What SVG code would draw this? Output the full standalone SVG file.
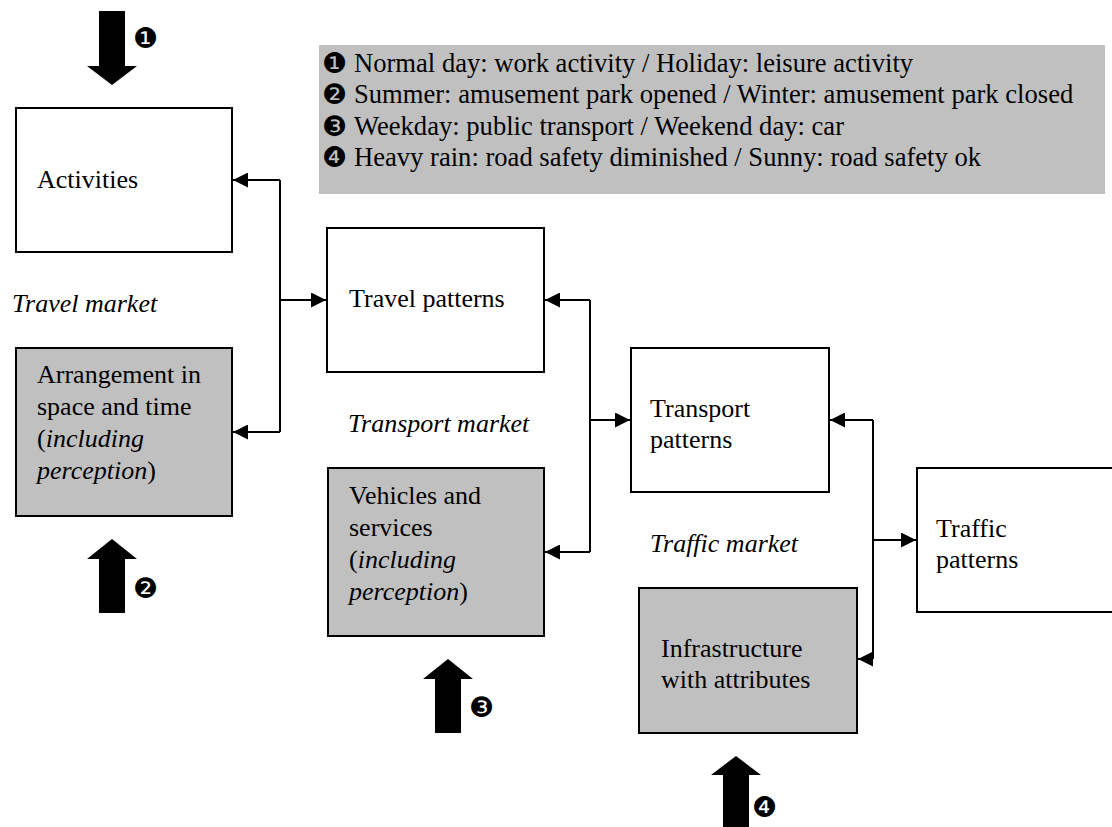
<svg xmlns="http://www.w3.org/2000/svg" width="1112" height="827" viewBox="0 0 1112 827">
<defs>
<style>
.box{fill:#fff;stroke:#000;stroke-width:2}
.gray{fill:#c0c0c0;stroke:#000;stroke-width:2}
.t{font-family:"Liberation Serif","Times New Roman",serif;font-size:26px;fill:#000}
.lg{font-size:26.6px}
.it{font-style:italic}
.num{font-family:"DejaVu Sans",sans-serif;font-size:28px;fill:#000}
.con{fill:none;stroke:#000;stroke-width:2}
.big{fill:#000}
</style>
<marker id="ah" viewBox="0 0 10 10" refX="10" refY="5" markerWidth="15" markerHeight="15" markerUnits="userSpaceOnUse" orient="auto">
<path d="M0,0 L10,5 L0,10 Z" fill="#000"/>
</marker>
</defs>
<rect width="1112" height="827" fill="#fff"/>

<g id="legend">
<rect x="319" y="45" width="786" height="149" fill="#c0c0c0"/>
<text class="num" x="322" y="73">❶</text>
<text class="t lg" x="354" y="72">Normal day: work activity / Holiday: leisure activity</text>
<text class="num" x="322" y="104">❷</text>
<text class="t lg" x="354" y="103">Summer: amusement park opened / Winter: amusement park closed</text>
<text class="num" x="322" y="136">❸</text>
<text class="t lg" x="354" y="135">Weekday: public transport / Weekend day: car</text>
<text class="num" x="322" y="167">❹</text>
<text class="t lg" x="354" y="166">Heavy rain: road safety diminished / Sunny: road safety ok</text>
</g>

<g id="activities">
<rect class="box" x="16" y="108" width="216" height="144"/>
<text class="t" x="37" y="188">Activities</text>
</g>

<g id="arrangement">
<rect class="gray" x="16" y="348" width="216" height="168"/>
<text class="t" x="37" y="383">Arrangement in</text>
<text class="t" x="37" y="415">space and time</text>
<text class="t" x="37" y="447">(<tspan class="it">including</tspan></text>
<text class="t" x="37" y="479"><tspan class="it">perception</tspan>)</text>
</g>

<g id="travel-patterns">
<rect class="box" x="327" y="228" width="217" height="144"/>
<text class="t" x="349" y="307">Travel patterns</text>
</g>

<g id="vehicles">
<rect class="gray" x="328" y="468" width="216" height="168"/>
<text class="t" x="349" y="504">Vehicles and</text>
<text class="t" x="349" y="536">services</text>
<text class="t" x="349" y="568">(<tspan class="it">including</tspan></text>
<text class="t" x="349" y="600"><tspan class="it">perception</tspan>)</text>
</g>

<g id="transport-patterns">
<rect class="box" x="631" y="348" width="198" height="144"/>
<text class="t" x="650" y="417">Transport</text>
<text class="t" x="650" y="448">patterns</text>
</g>

<g id="infrastructure">
<rect class="gray" x="639" y="588" width="218" height="145"/>
<text class="t" x="661" y="657">Infrastructure</text>
<text class="t" x="661" y="688">with attributes</text>
</g>

<g id="traffic-patterns">
<rect class="box" x="917" y="468" width="210" height="144"/>
<text class="t" x="936" y="537">Traffic</text>
<text class="t" x="936" y="568">patterns</text>
</g>

<g id="market-labels">
<text class="t it" x="12" y="312">Travel market</text>
<text class="t it" x="348" y="432">Transport market</text>
<text class="t it" x="650" y="552">Traffic market</text>
</g>

<g id="connectors">
<path class="con" d="M280,180 V432"/>
<path class="con" d="M280,180 H233" marker-end="url(#ah)"/>
<path class="con" d="M280,432 H233" marker-end="url(#ah)"/>
<path class="con" d="M280,300 H326" marker-end="url(#ah)"/>

<path class="con" d="M590,300 V552"/>
<path class="con" d="M590,300 H545" marker-end="url(#ah)"/>
<path class="con" d="M590,420 H630" marker-end="url(#ah)"/>
<path class="con" d="M590,552 H545" marker-end="url(#ah)"/>

<path class="con" d="M873,420 V659"/>
<path class="con" d="M873,420 H830" marker-end="url(#ah)"/>
<path class="con" d="M873,540 H916" marker-end="url(#ah)"/>
<path class="con" d="M873,659 H858" marker-end="url(#ah)"/>
</g>

<g id="influence-1">
<polygon class="big" points="99,11 125,11 125,66 137,66 112,85 87,66 99,66"/>
<text class="num" x="133" y="48">❶</text>
</g>
<g id="influence-2">
<polygon class="big" points="112,539 137,559 125,559 125,613 99,613 99,559 87,559"/>
<text class="num" x="133" y="598">❷</text>
</g>
<g id="influence-3">
<polygon class="big" points="448,659 473,679 461,679 461,733 435,733 435,679 423,679"/>
<text class="num" x="469" y="717">❸</text>
</g>
<g id="influence-4">
<polygon class="big" points="736,756 761,775 749,775 749,830 723,830 723,775 711,775"/>
<text class="num" x="752" y="817">❹</text>
</g>
</svg>
